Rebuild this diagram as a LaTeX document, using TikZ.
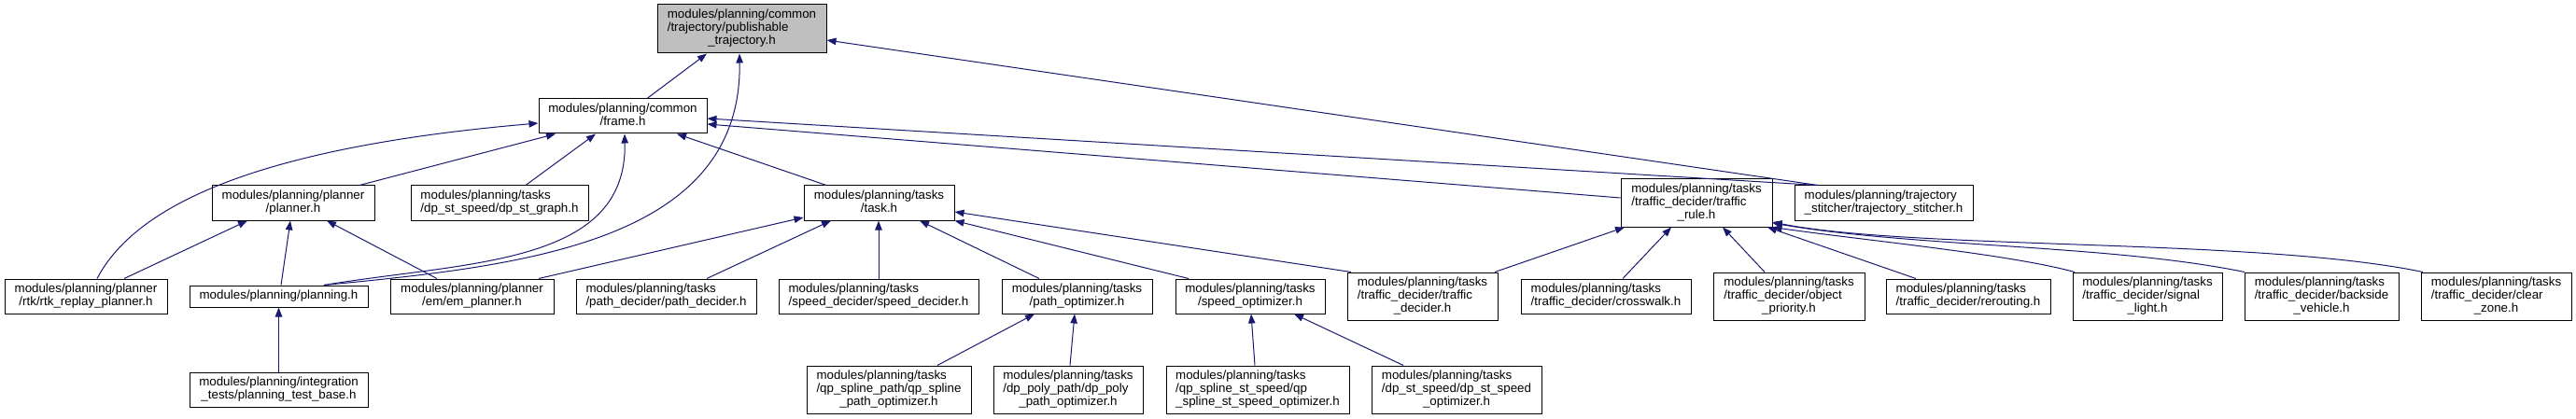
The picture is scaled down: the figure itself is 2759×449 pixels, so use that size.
\documentclass[tikz,border=0pt]{standalone}
\usepackage{fontspec}
\setmainfont{Liberation Sans}
\usetikzlibrary{arrows.meta}
\definecolor{edgeblue}{HTML}{191970}
\definecolor{rootgray}{HTML}{BFBFBF}
\newcommand{\flabel}[2]{\begin{tabular}{@{}l@{}}#1\\\multicolumn{1}{@{}c@{}}{#2}\end{tabular}}

\begin{document}
\begin{tikzpicture}[x=0.75pt,y=-0.75pt,
  file/.style={draw=black,fill=white,line width=0.75pt,inner sep=0pt,font=\fontsize{10}{10.5}\selectfont},
  root/.style={file,fill=rootgray},
  sz/.style 2 args={minimum width=#1*0.75pt,minimum height=#2*0.75pt},
  dep/.style={draw=edgeblue,line width=0.75pt,{Triangle[length=7.5pt,width=5.6pt,fill=edgeblue]}-}]
\useasboundingbox (0,0) rectangle (2759,449);
\node[root,sz={181}{52}] (pub) at (794.5,31) {\flabel{modules/planning/common\\/trajectory/publishable}{\_trajectory.h}};
\node[file,sz={180}{37}] (frame) at (667,124.5) {\flabel{modules/planning/common}{/frame.h}};
\node[file,sz={174}{37}] (planner) at (314,217.5) {\flabel{modules/planning/planner}{/planner.h}};
\node[file,sz={190}{37}] (dpgraph) at (535,217.5) {\flabel{modules/planning/tasks}{/dp\_st\_speed/dp\_st\_graph.h}};
\node[file,sz={161}{37}] (task) at (941.5,217.5) {\flabel{modules/planning/tasks}{/task.h}};
\node[file,sz={162}{51}] (trule) at (1817,217.5) {\flabel{modules/planning/tasks\\/traffic\_decider/traffic}{\_rule.h}};
\node[file,sz={191}{37}] (stitcher) at (2017.5,217.5) {\flabel{modules/planning/trajectory}{\_stitcher/trajectory\_stitcher.h}};
\node[file,sz={174}{37}] (rtk) at (92,317.5) {\flabel{modules/planning/planner}{/rtk/rtk\_replay\_planner.h}};
\node[file,sz={191}{23}] (planning) at (298.5,317.5) {modules/planning/planning.h};
\node[file,sz={175}{37}] (em) at (505.5,317.5) {\flabel{modules/planning/planner}{/em/em\_planner.h}};
\node[file,sz={193}{37}] (pathdec) at (713.5,317.5) {\flabel{modules/planning/tasks}{/path\_decider/path\_decider.h}};
\node[file,sz={214}{37}] (speeddec) at (941,317.5) {\flabel{modules/planning/tasks}{/speed\_decider/speed\_decider.h}};
\node[file,sz={161}{37}] (pathopt) at (1153.5,317.5) {\flabel{modules/planning/tasks}{/path\_optimizer.h}};
\node[file,sz={160}{37}] (speedopt) at (1339,317.5) {\flabel{modules/planning/tasks}{/speed\_optimizer.h}};
\node[file,sz={161}{51}] (tdecider) at (1523.5,317.5) {\flabel{modules/planning/tasks\\/traffic\_decider/traffic}{\_decider.h}};
\node[file,sz={182}{37}] (crosswalk) at (1720,317.5) {\flabel{modules/planning/tasks}{/traffic\_decider/crosswalk.h}};
\node[file,sz={162}{51}] (objprio) at (1916,317.5) {\flabel{modules/planning/tasks\\/traffic\_decider/object}{\_priority.h}};
\node[file,sz={176}{37}] (rerouting) at (2108,317.5) {\flabel{modules/planning/tasks}{/traffic\_decider/rerouting.h}};
\node[file,sz={160}{51}] (signal) at (2300,317.5) {\flabel{modules/planning/tasks\\/traffic\_decider/signal}{\_light.h}};
\node[file,sz={165}{51}] (backside) at (2486.5,317.5) {\flabel{modules/planning/tasks\\/traffic\_decider/backside}{\_vehicle.h}};
\node[file,sz={161}{51}] (clearzone) at (2673.5,317.5) {\flabel{modules/planning/tasks\\/traffic\_decider/clear}{\_zone.h}};
\node[file,sz={191}{37}] (testbase) at (298.5,417.5) {\flabel{modules/planning/integration}{\_tests/planning\_test\_base.h}};
\node[file,sz={176}{51}] (qppath) at (952,417.5) {\flabel{modules/planning/tasks\\/qp\_spline\_path/qp\_spline}{\_path\_optimizer.h}};
\node[file,sz={160}{51}] (dppoly) at (1144,417.5) {\flabel{modules/planning/tasks\\/dp\_poly\_path/dp\_poly}{\_path\_optimizer.h}};
\node[file,sz={196}{51}] (qpst) at (1347,417.5) {\flabel{modules/planning/tasks\\/qp\_spline\_st\_speed/qp}{\_spline\_st\_speed\_optimizer.h}};
\node[file,sz={182}{51}] (dpst) at (1560,417.5) {\flabel{modules/planning/tasks\\/dp\_st\_speed/dp\_st\_speed}{\_optimizer.h}};
\draw[dep] (pub.south -| 757,0) -- (frame.north -| 693,0);
\draw[dep] (pub.south -| 792,0) .. controls (795,260) and (560,285) .. (planning.north -| 347,0);
\draw[dep] (pub.east |- 0,43) -- (stitcher.north -| 1947,0);
\draw[dep] (frame.west |- 0,132) .. controls (250,160) and (140,230) .. (rtk.north -| 104,0);
\draw[dep] (frame.south -| 595,0) -- (planner.north -| 385,0);
\draw[dep] (frame.south -| 638,0) -- (dpgraph.north -| 563,0);
\draw[dep] (frame.south -| 669,0) .. controls (672,285) and (500,280) .. (planning.north -| 347,0);
\draw[dep] (frame.south -| 725,0) -- (task.north -| 885,0);
\draw[dep] (frame.east |- 0,127) -- (stitcher.north -| 1947,0);
\draw[dep] (frame.east |- 0,133) -- (trule.west |- 0,212);
\draw[dep] (planner.south -| 265,0) -- (rtk.north -| 133,0);
\draw[dep] (planner.south -| 311,0) -- (planning.north -| 301,0);
\draw[dep] (planner.south -| 350,0) -- (em.north -| 468,0);
\draw[dep] (planning.south) -- (testbase.north);
\draw[dep] (task.west |- 0,233) -- (em.north -| 577,0);
\draw[dep] (task.south -| 890,0) -- (pathdec.north -| 757,0);
\draw[dep] (task.south -| 941,0) -- (speeddec.north -| 941,0);
\draw[dep] (task.south -| 985,0) -- (pathopt.north -| 1113,0);
\draw[dep] (task.south east) -- (speedopt.north -| 1273,0);
\draw[dep] (task.east |- 0,227) -- (tdecider.north -| 1447,0);
\draw[dep] (trule.south -| 1740,0) -- (tdecider.north -| 1601,0);
\draw[dep] (trule.south -| 1790,0) -- (crosswalk.north -| 1738,0);
\draw[dep] (trule.south -| 1845,0) -- (objprio.north -| 1890,0);
\draw[dep] (trule.south -| 1893,0) -- (rerouting.north -| 2052,0);
\draw[dep] (trule.south east) .. controls (2000,258) and (2150,272) .. (signal.north -| 2222,0);
\draw[dep] (trule.east |- 0,239) .. controls (2050,265) and (2260,262) .. (backside.north -| 2404,0);
\draw[dep] (trule.east |- 0,238) .. controls (2050,268) and (2420,255) .. (clearzone.north -| 2595,0);
\draw[dep] (pathopt.south -| 1108,0) -- (qppath.north -| 1004,0);
\draw[dep] (pathopt.south -| 1151,0) -- (dppoly.north -| 1146,0);
\draw[dep] (speedopt.south -| 1340,0) -- (qpst.north -| 1344,0);
\draw[dep] (speedopt.south -| 1386,0) -- (dpst.north -| 1503,0);
\end{tikzpicture}
\end{document}
